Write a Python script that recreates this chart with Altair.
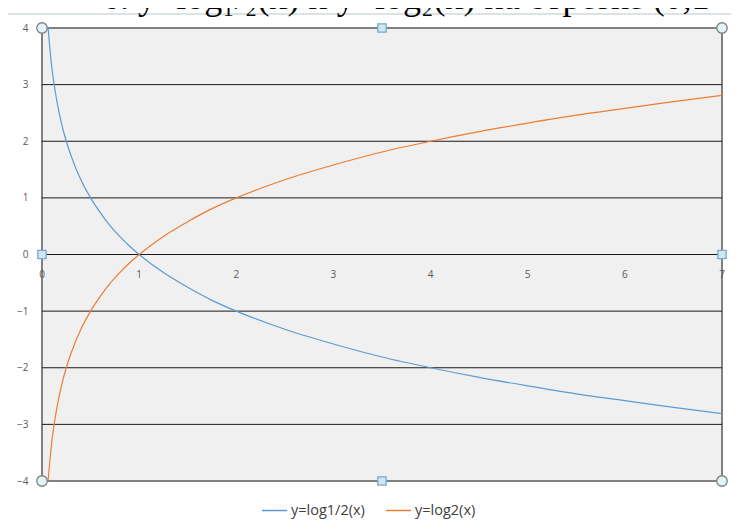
import altair as alt
import pandas as pd

# ---- data ----
X_VALUES = [0.0625, 0.1, 0.15, 0.2, 0.25, 0.3, 0.4, 0.5, 0.6, 0.7, 0.8, 0.9, 1.0,
            1.25, 1.5, 1.75, 2.0, 2.5, 3.0, 3.5, 4.0, 4.5, 5.0, 5.5, 6.0, 6.5, 7.0]
BLUE_Y = [4.0, 3.32, 2.74, 2.32, 2.0, 1.74, 1.32, 1.0, 0.74, 0.51, 0.32, 0.15, 0.0,
          -0.32, -0.58, -0.81, -1.0, -1.32, -1.58, -1.81, -2.0, -2.17, -2.32, -2.46, -2.58, -2.70, -2.81]
ORANGE_Y = [-4.0, -3.32, -2.74, -2.32, -2.0, -1.74, -1.32, -1.0, -0.74, -0.51, -0.32, -0.15, 0.0,
            0.32, 0.58, 0.81, 1.0, 1.32, 1.58, 1.81, 2.0, 2.17, 2.32, 2.46, 2.58, 2.70, 2.81]
SERIES = ["y=log1/2(x)", "y=log2(x)"]
COLORS = ["#5B9BD5", "#ED7D31"]
Y_TICKS = [-4, -3, -2, -1, 0, 1, 2, 3, 4]
X_TICKS = [0, 1, 2, 3, 4, 5, 6, 7]
GRID_Y = [-3, -2, -1, 0, 1, 2, 3]
CIRCLE_HANDLE_X = [0, 7, 0, 7]
CIRCLE_HANDLE_Y = [4, 4, -4, -4]
SQUARE_HANDLE_X = [3.5, 3.5, 0, 7]
SQUARE_HANDLE_Y = [4, -4, 0, 0]
TITLE = "6. y=log\u2081/\u2082(x) и y=log\u2082(x) на отрезке (0,1"

lines_df = pd.DataFrame({
    "x": X_VALUES * 2,
    "y": BLUE_Y + ORANGE_Y,
    "series": [SERIES[0]] * len(X_VALUES) + [SERIES[1]] * len(X_VALUES),
})
grid_df = pd.DataFrame({"y": GRID_Y})
xlab_df = pd.DataFrame({"x": X_TICKS, "y": [0] * len(X_TICKS), "lab": [str(v) for v in X_TICKS]})
circ_df = pd.DataFrame({"x": CIRCLE_HANDLE_X, "y": CIRCLE_HANDLE_Y})
sq_df = pd.DataFrame({"x": SQUARE_HANDLE_X, "y": SQUARE_HANDLE_Y})
title_df = pd.DataFrame({"t": [TITLE]})

xs = alt.Scale(domain=[0, 7], nice=False, zero=False)
ys = alt.Scale(domain=[-4, 4], nice=False, zero=False)
yaxis = alt.Axis(values=Y_TICKS, grid=False, domain=False, ticks=False, tickSize=0,
                 labelPadding=14, labelFontSize=10, labelColor="#595959",
                 labelFont="Open Sans", title=None)

X = alt.X("x:Q", scale=xs, axis=None)
Y = alt.Y("y:Q", scale=ys, axis=yaxis)

top_border = alt.Chart(title_df).mark_rule(color="#cfdadc", strokeWidth=1.5).encode(
    x=alt.value(-34), x2=alt.value(689), y=alt.value(-14))

grid = alt.Chart(grid_df).mark_rule(color="#1a1a1a", strokeWidth=1).encode(y=Y)

lines = alt.Chart(lines_df).mark_line(strokeWidth=1.2, interpolate="monotone").encode(
    x=X, y=Y,
    color=alt.Color("series:N", sort=SERIES,
                    scale=alt.Scale(domain=SERIES, range=COLORS),
                    legend=alt.Legend(title=None, orient="none", legendX=219, legendY=469,
                                      direction="horizontal", symbolType="stroke",
                                      symbolSize=625, symbolStrokeWidth=1.5,
                                      labelFont="Open Sans", labelFontSize=14.5,
                                      labelColor="#404040", labelOffset=3,
                                      columnPadding=18)),
    detail="series:N",
)

xlabels = alt.Chart(xlab_df).mark_text(fontSize=10, font="Open Sans", color="#595959",
                                       baseline="middle", dy=20).encode(
    x=X, y=Y, text="lab:N")

circles = alt.Chart(circ_df).mark_point(shape="circle", size=110, fill="#e0f3f7",
                                        stroke="#7f7f7f", strokeWidth=1.3,
                                        opacity=1, fillOpacity=1).encode(x=X, y=Y)
squares = alt.Chart(sq_df).mark_point(shape="square", size=70, fill="#cde8f5",
                                      stroke="#7fa8c8", strokeWidth=1.3,
                                      opacity=1, fillOpacity=1).encode(x=X, y=Y)

title = alt.Chart(title_df).mark_text(font="Liberation Serif", fontSize=36, color="#000000",
                                      align="left", baseline="alphabetic").encode(
    text="t:N", x=alt.value(60), y=alt.value(-19))

chart = alt.layer(top_border, grid, lines, xlabels, circles, squares, title).properties(
    width=680, height=453,
    autosize=alt.AutoSizeParams(type="none"),
    padding={"left": 34, "top": 20, "right": 9, "bottom": 40},
    background="#ffffff",
).configure_view(fill="#F0F0F0", stroke="#808080", strokeWidth=2)

chart.save("out.html", embed_options={"renderer": "svg", "actions": False})
